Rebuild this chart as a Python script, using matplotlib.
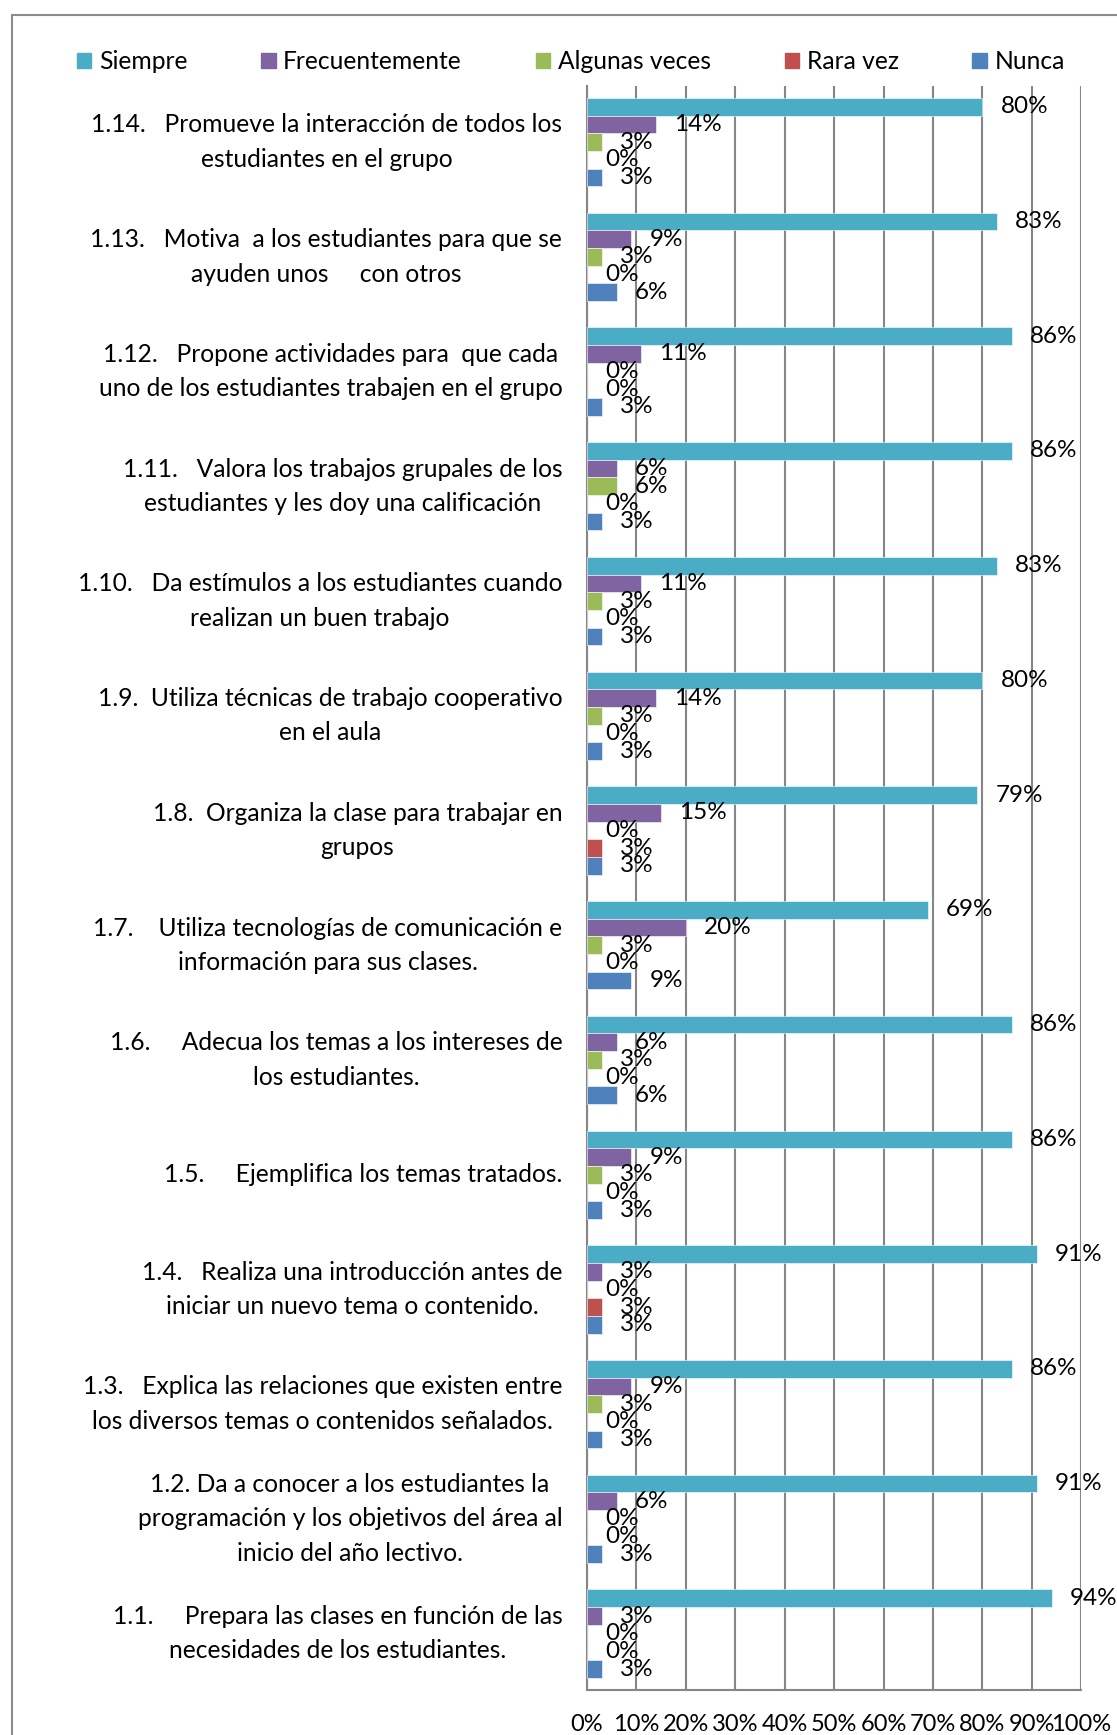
import matplotlib.pyplot as plt
from matplotlib.patches import Patch, Rectangle
import numpy as np

# -------------------- DATOS --------------------
categorias = [
    "1.1.     Prepara las clases en función de las\nnecesidades de los estudiantes.",
    "1.2. Da a conocer a los estudiantes la\nprogramación y los objetivos del área al\ninicio del año lectivo.",
    "1.3.   Explica las relaciones que existen entre\nlos diversos temas o contenidos señalados.",
    "1.4.   Realiza una introducción antes de\niniciar un nuevo tema o contenido.",
    "1.5.     Ejemplifica los temas tratados.",
    "1.6.     Adecua los temas a los intereses de\nlos estudiantes.",
    "1.7.    Utiliza tecnologías de comunicación e\ninformación para sus clases.",
    "1.8.  Organiza la clase para trabajar en\ngrupos",
    "1.9.  Utiliza técnicas de trabajo cooperativo\nen el aula",
    "1.10.   Da estímulos a los estudiantes cuando\nrealizan un buen trabajo",
    "1.11.   Valora los trabajos grupales de los\nestudiantes y les doy una calificación",
    "1.12.   Propone actividades para  que cada\nuno de los estudiantes trabajen en el grupo",
    "1.13.   Motiva  a los estudiantes para que se\nayuden unos     con otros",
    "1.14.   Promueve la interacción de todos los\nestudiantes en el grupo",
]

series = ["Siempre", "Frecuentemente", "Algunas veces", "Rara vez", "Nunca"]
siempre        = [94, 91, 86, 91, 86, 86, 69, 79, 80, 83, 86, 86, 83, 80]
frecuentemente = [3, 6, 9, 3, 9, 6, 20, 15, 14, 11, 6, 11, 9, 14]
algunas        = [0, 0, 3, 0, 3, 3, 3, 0, 3, 3, 6, 0, 3, 3]
rara_vez       = [0, 0, 0, 3, 0, 0, 0, 3, 0, 0, 0, 0, 0, 0]
nunca          = [3, 3, 3, 3, 3, 6, 9, 3, 3, 3, 3, 3, 6, 3]
valores = [siempre, frecuentemente, algunas, rara_vez, nunca]

colores = ["#4BACC6", "#8064A2", "#9BBB59", "#C0504D", "#4F81BD"]
ticks = [0, 10, 20, 30, 40, 50, 60, 70, 80, 90, 100]

# -------------------- FIGURA --------------------
plt.rcParams['font.family'] = ['Lato', 'DejaVu Sans']
fig = plt.figure(figsize=(11.17, 17.35), dpi=100)
ax = fig.add_axes([0.5255, 0.026, 0.4425, 0.9245])

# marco exterior gris
fig.patches.append(Rectangle((0.0105, -0.05), 1.2, 0.9913 + 0.05, transform=fig.transFigure,
                             fill=False, edgecolor="#8c8c8c", linewidth=1.5))

y = np.arange(len(categorias))
h = 0.154
for k, (nombre, vals, col) in enumerate(zip(series, valores, colores)):
    bars = ax.barh(y + (2 - k) * h, vals, height=h, color=col, edgecolor="#ffffff",
                   linewidth=0.4, label=nombre, zorder=3)
    ax.bar_label(bars, labels=[f"{v}%" for v in vals], padding=13, fontsize=17.5, color="black")

ax.set_xlim(0, 100)
ax.set_ylim(-0.49, len(categorias) - 0.51)
ax.set_xticks(ticks)
ax.set_xticklabels([f"{t}%" for t in ticks], fontsize=17)
ax.tick_params(axis='x', length=0, pad=17)
ax.set_yticks([])
ax.grid(axis='x', color="#868686", linewidth=1.5, zorder=0)
for s in ["top", "right"]:
    ax.spines[s].set_visible(False)
for s in ["left", "bottom"]:
    ax.spines[s].set_color("#868686")
    ax.spines[s].set_linewidth(1.5)

# -------------------- ETIQUETAS --------------------
for yi, txt in zip(y, categorias):
    ax.text(-0.05, yi, txt, transform=ax.get_yaxis_transform(), ha='right', va='center',
            multialignment='center', fontsize=17.7, linespacing=1.6)

# -------------------- LEYENDA --------------------
handles = [Patch(facecolor=c, edgecolor=c) for c in colores]
fig.legend(handles, series, loc='center', bbox_to_anchor=(0.511, 0.9645), ncol=5,
           frameon=False, fontsize=17.7, handlelength=0.6, handleheight=0.6,
           handletextpad=0.3, columnspacing=3.0)

fig.savefig("out.png", dpi=100)
